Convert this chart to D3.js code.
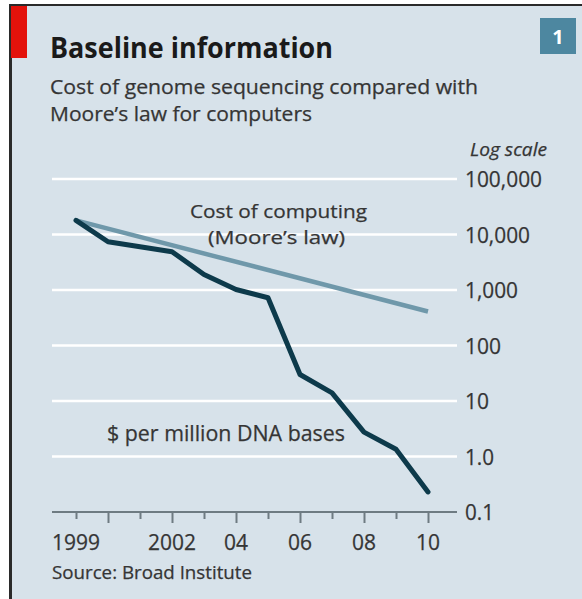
<!DOCTYPE html>
<html>
<head>
<meta charset="utf-8">
<script src="https://cdn.jsdelivr.net/npm/d3@7"></script>
<style>
  body { margin: 0; background: #fff; }
  text { font-family: "Open Sans", "Noto Sans", sans-serif; fill: #353535; stroke: #353535; stroke-width: 0.25px; }
</style>
</head>
<body>
<div id="chart"></div>
<script>
const years = [1999, 2000, 2001, 2002, 2003, 2004, 2005, 2006, 2007, 2008, 2009, 2010];
const genomeCost = [18000, 7400, 6000, 4900, 1900, 1020, 725, 30, 14, 2.75, 1.35, 0.23];
const mooreYears = [1999, 2010];
const mooreCost = [18000, 410];
const yTicks = [100000, 10000, 1000, 100, 10, 1, 0.1];
const yTickLabels = ["100,000", "10,000", "1,000", "100", "10", "1.0", "0.1"];
const xLabelYears = [1999, 2002, 2004, 2006, 2008, 2010];
const xLabels = ["1999", "2002", "04", "06", "08", "10"];

const W = 582, H = 599;
const svg = d3.select("#chart").append("svg")
    .attr("width", W)
    .attr("height", H);

// panel + frame
svg.append("rect").attr("x", 10).attr("y", 5).attr("width", W - 10).attr("height", H - 5)
    .attr("fill", "#d7e2ea");
svg.append("line").attr("x1", 10).attr("x2", W).attr("y1", 5).attr("y2", 5)
    .attr("stroke", "#2a2a2a").attr("stroke-width", 2);
svg.append("line").attr("x1", 10.5).attr("x2", 10.5).attr("y1", 4).attr("y2", H)
    .attr("stroke", "#2a2a2a").attr("stroke-width", 3);
svg.append("rect").attr("x", 11).attr("y", 6).attr("width", 16).attr("height", 52)
    .attr("fill", "#e3120b");

// number box
svg.append("rect").attr("x", 540).attr("y", 18).attr("width", 36).attr("height", 36)
    .attr("fill", "#4d87a0");
svg.append("text").attr("x", 558).attr("y", 44).attr("text-anchor", "middle")
    .style("fill", "#fff").style("stroke", "none").style("font-weight", "bold").style("font-size", "20px")
    .text("1");

// titles
svg.append("text").attr("x", 50).attr("y", 58)
    .style("font-weight", "bold").style("font-size", "28px").style("fill", "#1a1a1a").style("stroke", "none")
    .attr("textLength", 283).attr("lengthAdjust", "spacingAndGlyphs")
    .text("Baseline information");
svg.append("text").attr("x", 50).attr("y", 94)
    .style("font-size", "20px")
    .attr("textLength", 428).attr("lengthAdjust", "spacingAndGlyphs")
    .text("Cost of genome sequencing compared with");
svg.append("text").attr("x", 50).attr("y", 121)
    .style("font-size", "20px")
    .attr("textLength", 262).attr("lengthAdjust", "spacingAndGlyphs")
    .text("Moore\u2019s law for computers");

const x = d3.scaleLinear().domain([1999, 2010]).range([76, 428]);
const y = d3.scaleLog().domain([0.1, 100000]).range([512, 179]);

// gridlines
svg.append("g").selectAll("line")
    .data(yTicks.filter(d => d > 0.1))
    .join("line")
    .attr("x1", 52).attr("x2", 457)
    .attr("y1", d => y(d)).attr("y2", d => y(d))
    .attr("stroke", "#ffffff").attr("stroke-width", 2.5);

// x axis
const xAxis = d3.axisBottom(x)
    .tickValues(years)
    .tickSize(0)
    .tickFormat("");
const gx = svg.append("g").attr("transform", `translate(0,${y(0.1)})`).call(xAxis);
gx.select(".domain").remove();
gx.append("line").attr("x1", 52).attr("x2", 457).attr("y1", 0).attr("y2", 0)
    .attr("stroke", "#6e7b82").attr("stroke-width", 2);
gx.selectAll(".tick line")
    .attr("y2", d => d % 2 === 0 ? 11 : 7)
    .attr("stroke", "#6e7b82").attr("stroke-width", 2);

svg.append("g").selectAll("text")
    .data(xLabelYears)
    .join("text")
    .attr("x", d => x(d)).attr("y", 550)
    .attr("text-anchor", "middle")
    .style("font-size", "21px")
    .attr("textLength", (d, i) => xLabels[i].length * 12)
    .attr("lengthAdjust", "spacingAndGlyphs")
    .text((d, i) => xLabels[i]);

// y labels
svg.append("text").attr("x", 547).attr("y", 156).attr("text-anchor", "end")
    .style("font-size", "18px").style("font-style", "italic")
    .attr("textLength", 77).attr("lengthAdjust", "spacingAndGlyphs")
    .text("Log scale");
svg.append("g").selectAll("text")
    .data(yTicks)
    .join("text")
    .attr("x", 465).attr("y", d => y(d) + 8)
    .style("font-size", "22px")
    .attr("textLength", (d, i) => yTickLabels[i].replace(/[,.]/g, "").length * 12 + (yTickLabels[i].match(/[,.]/g) || []).length * 5)
    .attr("lengthAdjust", "spacingAndGlyphs")
    .text((d, i) => yTickLabels[i]);

// lines
const line = d3.line().x(d => x(d[0])).y(d => y(d[1]));
svg.append("path")
    .datum(mooreYears.map((yr, i) => [yr, mooreCost[i]]))
    .attr("d", line)
    .attr("fill", "none").attr("stroke", "#6f98aa").attr("stroke-width", 4.5);
svg.append("path")
    .datum(years.map((yr, i) => [yr, genomeCost[i]]))
    .attr("d", line)
    .attr("fill", "none").attr("stroke", "#0d3a4b").attr("stroke-width", 5)
    .attr("stroke-linejoin", "round").attr("stroke-linecap", "round");

// annotations
svg.append("text").attr("x", 190).attr("y", 218)
    .style("font-size", "19px")
    .attr("textLength", 177).attr("lengthAdjust", "spacingAndGlyphs")
    .text("Cost of computing");
svg.append("text").attr("x", 208).attr("y", 244)
    .style("font-size", "19px")
    .attr("textLength", 137).attr("lengthAdjust", "spacingAndGlyphs")
    .text("(Moore\u2019s law)");
svg.append("text").attr("x", 107).attr("y", 441)
    .style("font-size", "21px")
    .attr("textLength", 238).attr("lengthAdjust", "spacingAndGlyphs")
    .text("$ per million DNA bases");

// source
svg.append("text").attr("x", 52).attr("y", 579)
    .style("font-size", "18px")
    .attr("textLength", 200).attr("lengthAdjust", "spacingAndGlyphs")
    .text("Source: Broad Institute");
</script>
</body>
</html>
